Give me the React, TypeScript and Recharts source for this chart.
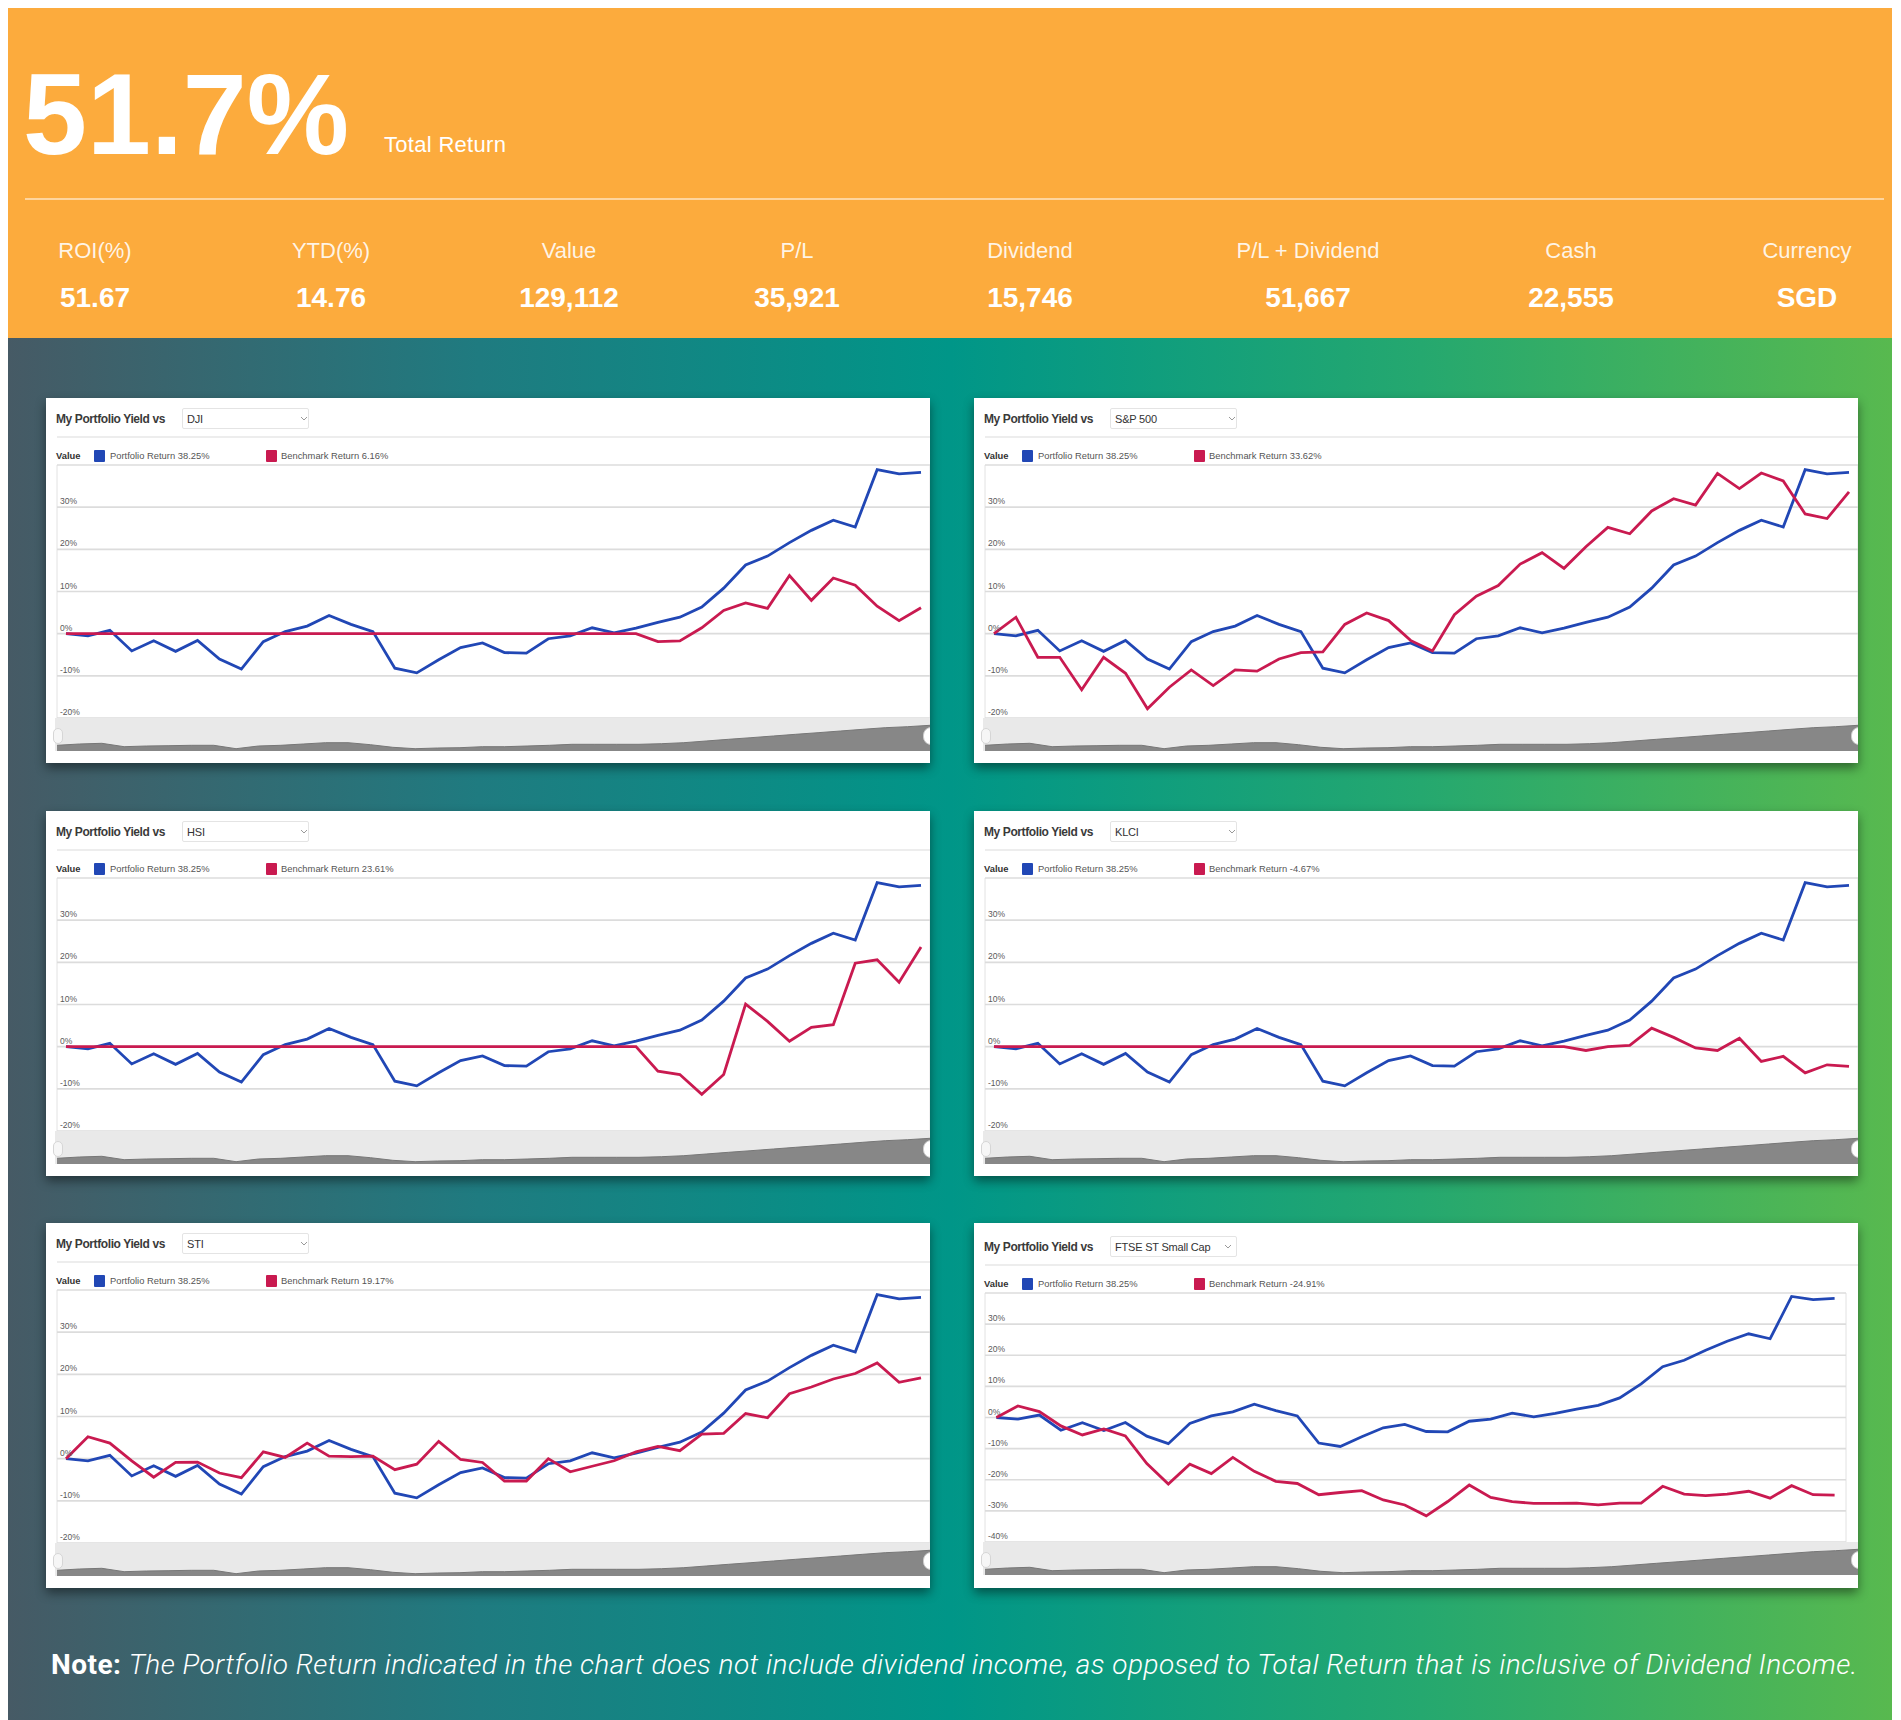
import React from "react";
import { LineChart, Line, XAxis, YAxis, CartesianGrid, AreaChart, Area } from "recharts";

// header figures
const headline = "51.7%";
const headlineCaption = "Total Return";
const statLabels = ["ROI(%)", "YTD(%)", "Value", "P/L", "Dividend", "P/L + Dividend", "Cash", "Currency"];
const statValues = ["51.67", "14.76", "129,112", "35,921", "15,746", "51,667", "22,555", "SGD"];

// chart series (40 sampled points, % return)
const portfolioReturn = [
  0, -0.5, 0.8, -4.1, -1.7, -4.2, -1.6, -6.0, -8.4, -1.9, 0.5, 1.8, 4.3, 2.2, 0.5, -8.2, -9.3, -6.2, -3.3, -2.2,
  -4.5, -4.6, -1.2, -0.5, 1.4, 0.2, 1.3, 2.7, 3.9, 6.3, 10.8, 16.3, 18.4, 21.6, 24.5, 26.9, 25.3, 38.9, 37.9, 38.25,
];
const djiReturn = [
  0, 0, 0, 0, 0, 0, 0, 0, 0, 0, 0, 0, 0, 0, 0, 0, 0, 0, 0, 0,
  0, 0, 0, 0, 0, 0, 0, -1.9, -1.7, 1.4, 5.5, 7.3, 6.0, 13.8, 7.9, 13.2, 11.5, 6.5, 3.1, 6.16,
];
const sp500Return = [
  0, 3.9, -5.6, -5.6, -13.3, -5.6, -9.4, -17.8, -12.7, -8.6, -12.3, -8.6, -8.9, -6.0, -4.5, -4.3, 2.2, 4.9, 3.1, -1.6,
  -4.1, 4.5, 8.9, 11.4, 16.5, 19.2, 15.5, 20.6, 25.2, 23.7, 29.1, 32.0, 30.5, 38.0, 34.4, 38.1, 36.2, 28.4, 27.3, 33.62,
];
const hsiReturn = [
  0, 0, 0, 0, 0, 0, 0, 0, 0, 0, 0, 0, 0, 0, 0, 0, 0, 0, 0, 0,
  0, 0, 0, 0, 0, 0, 0, -5.8, -6.6, -11.3, -6.6, 10.1, 6.0, 1.3, 4.6, 5.2, 19.8, 20.6, 15.3, 23.61,
];
const klciReturn = [
  0, 0, 0, 0, 0, 0, 0, 0, 0, 0, 0, 0, 0, 0, 0, 0, 0, 0, 0, 0,
  0, 0, 0, 0, 0, 0, 0, -0.9, 0, 0.3, 4.4, 2.2, -0.3, -0.9, 2.0, -3.5, -2.3, -6.2, -4.3, -4.67,
];
const stiReturn = [
  0, 5.2, 3.7, -0.5, -4.4, -0.9, -0.8, -3.4, -4.5, 1.6, 0.3, 3.7, 0.6, 0.5, 0.6, -2.6, -1.3, 4.1, -0.2, -0.9,
  -5.3, -5.3, 0, -3.1, -1.8, -0.5, 1.6, 2.9, 1.9, 5.8, 6.0, 10.7, 9.7, 15.4, 17.0, 18.9, 20.2, 22.7, 18.1, 19.17,
];
const ftseSmallCapReturn = [
  0, 3.7, 1.9, -2.7, -5.6, -3.7, -5.9, -14.8, -21.4, -15.0, -18.0, -12.8, -17.3, -20.5, -21.2, -24.8, -24.1, -23.5, -26.5, -28.1,
  -31.6, -27.0, -21.7, -25.7, -27.0, -27.6, -27.6, -27.5, -28.1, -27.5, -27.5, -22.1, -24.6, -25.1, -24.6, -23.7, -25.9, -21.9, -24.8, -24.91,
];

const benchmarkNames = ["DJI", "S&P 500", "HSI", "KLCI", "STI", "FTSE ST Small Cap"];
const benchmarkLegend = ["6.16%", "33.62%", "23.61%", "-4.67%", "19.17%", "-24.91%"];
const portfolioLegend = "38.25%";

// navigator strip under each chart
const navigatorSeries = [
  5.7, 7, 7.7, 4.3, 5, 5.3, 5.7, 5.7, 2.3, 5, 5.7, 7, 8.3, 8.3, 6.3, 3.7, 2.3, 3, 3.3, 4.3,
  4.3, 5, 5.7, 6.7, 6.7, 6.7, 6.7, 7.3, 8.3, 10, 11.7, 13.3, 15, 16.7, 18.3, 20, 21.7, 23.3, 24.3, 25.7,
];
const navigatorTickIndex = [1.8, 10.9, 13.8, 22.7, 25.6, 28.7, 31.8, 34.9, 37.8];
const navigatorTickLabels = ["Apr", "2023", "Apr", "2024", "Apr", "Jul", "Oct", "2025", "Apr"];

const yTicksNarrow = [-20, -10, 0, 10, 20, 30, 40];
const yTicksWide = [-40, -30, -20, -10, 0, 10, 20, 30, 40];
const xGridTicks = [1.5, 4.5, 7.5, 10.5, 13.5, 16.5, 19.5, 22.5, 25.5, 28.5, 31.5, 34.5, 37.5];

const FONT = "'Liberation Sans', Arial, Helvetica, sans-serif";
const ORANGE = "#fcab3d";
const BLUE = "#2147b5";
const RED = "#c91a50";
const CARD_W = 884;
const CARD_H = 365;
const statCenters = [87, 323, 561, 789, 1022, 1300, 1563, 1799];

type CardProps = {
  left: number;
  top: number;
  idx: number;
  bench: number[];
  wide?: boolean;
};

function YTickLabel(props: any) {
  const { y, payload, top } = props;
  if (payload.value === top) return <g />;
  return (
    <text x={14} y={y - 3} fontSize={8.5} fill="#5a5a5a" fontFamily={FONT}>
      {`${payload.value}%`}
    </text>
  );
}

function ChartCard({ left, top, idx, bench, wide }: CardProps) {
  const rows = portfolioReturn.map((p, i) => ({ i, portfolio: p, benchmark: bench[i] }));
  const navRows = navigatorSeries.map((v, i) => ({ i, v }));
  const nudge = wide ? 3 : 0;
  const plotTop = wide ? 70 : 67;
  const plotBottom = wide ? 319 : 320;
  const rightGap = wide ? 12 : 0;
  const pad = wide ? 0.53 : 0.41;
  const yTicks = wide ? yTicksWide : yTicksNarrow;
  const yMax = yTicks[yTicks.length - 1];

  return (
    <div
      style={{
        position: "absolute",
        left,
        top,
        width: CARD_W,
        height: CARD_H,
        background: "#fff",
        boxShadow: "0 5px 10px rgba(0,0,0,0.45)",
        overflow: "hidden",
      }}
    >
      <div style={{ position: "absolute", left: 10, top: 15 + nudge, fontSize: 12, lineHeight: "12px", fontWeight: 700, color: "#3a3a3a", letterSpacing: -0.4, whiteSpace: "nowrap" }}>
        My Portfolio Yield vs
      </div>
      <div style={{ position: "absolute", left: 136, top: 10 + nudge, width: 127, height: 21, border: "1px solid #e4e4e4", borderRadius: 2, boxSizing: "border-box" }} />
      <div style={{ position: "absolute", left: 141, top: 16 + nudge, fontSize: 11, lineHeight: "11px", color: "#333", whiteSpace: "nowrap", letterSpacing: -0.2 }}>
        {benchmarkNames[idx]}
      </div>
      <svg style={{ position: "absolute", left: wide ? 250 : 254, top: 18 + nudge }} width={8} height={5}>
        <polyline points="1,1 4,4 7,1" fill="none" stroke="#999" strokeWidth={1} />
      </svg>
      <div style={{ position: "absolute", left: 11, top: 38 + nudge, width: CARD_W - 11, height: 1.5, background: "#ededed" }} />

      <div style={{ position: "absolute", left: 10, top: 53 + nudge, fontSize: 9.4, lineHeight: "9.4px", fontWeight: 700, color: "#333" }}>Value</div>
      <div style={{ position: "absolute", left: 48, top: 52 + nudge, width: 11, height: 12, background: BLUE, borderRadius: 1 }} />
      <div style={{ position: "absolute", left: 64, top: 53 + nudge, fontSize: 9.4, lineHeight: "9.4px", color: "#555", whiteSpace: "nowrap" }}>
        {`Portfolio Return ${portfolioLegend}`}
      </div>
      <div style={{ position: "absolute", left: 220, top: 52 + nudge, width: 11, height: 12, background: RED, borderRadius: 1 }} />
      <div style={{ position: "absolute", left: 235, top: 53 + nudge, fontSize: 9.4, lineHeight: "9.4px", color: "#555", whiteSpace: "nowrap" }}>
        {`Benchmark Return ${benchmarkLegend[idx]}`}
      </div>

      <div style={{ position: "absolute", left: 0, top: 0 }}>
        <LineChart width={CARD_W} height={plotBottom + 2} data={rows} margin={{ top: plotTop, right: rightGap, left: 11, bottom: 2 }}>
          <CartesianGrid horizontal={false} stroke="#e2e2e2" strokeWidth={1} />
          <CartesianGrid vertical={false} stroke="#dcdcdc" strokeWidth={1.6} />
          <XAxis
            type="number"
            dataKey="i"
            domain={[-pad, 39 + pad]}
            ticks={xGridTicks}
            interval={0}
            tick={false}
            axisLine={false}
            tickLine={false}
            height={0}
          />
          <YAxis
            type="number"
            domain={[yTicks[0], yMax]}
            ticks={yTicks}
            interval={0}
            mirror
            width={30}
            axisLine={false}
            tickLine={false}
            tick={<YTickLabel top={yMax} />}
          />
          <Line type="linear" dataKey="portfolio" stroke={BLUE} strokeWidth={2.8} dot={false} isAnimationActive={false} />
          <Line type="linear" dataKey="benchmark" stroke={RED} strokeWidth={2.8} dot={false} isAnimationActive={false} />
        </LineChart>
      </div>

      <div style={{ position: "absolute", left: 9, top: plotBottom, width: CARD_W - 9, height: 33, background: "#e9e9e9" }} />
      <div style={{ position: "absolute", left: 11, top: plotBottom }}>
        <AreaChart width={CARD_W - 11} height={33} data={navRows} margin={{ top: 0, right: 0, left: 0, bottom: 0 }}>
          <XAxis
            type="number"
            dataKey="i"
            domain={[0, 39]}
            ticks={navigatorTickIndex}
            interval={0}
            axisLine={false}
            tickLine={false}
            height={0}
            tick={(p: any) => (
              <text x={p.x} y={29} fontSize={8} fill="#cfcfcf" textAnchor="middle" fontFamily={FONT}>
                {navigatorTickLabels[navigatorTickIndex.indexOf(p.payload.value)]}
              </text>
            )}
          />
          <YAxis hide domain={[0, 33]} />
          <Area type="linear" dataKey="v" fill="#878787" fillOpacity={1} stroke="#777" strokeWidth={1} isAnimationActive={false} />
        </AreaChart>
      </div>
      <div style={{ position: "absolute", left: 7, top: plotBottom + 10, width: 8, height: 14, borderRadius: 5, border: "1px solid #d6d6d6", background: "#f6f6f6" }} />
      <div style={{ position: "absolute", left: CARD_W - 7, top: plotBottom + 9, width: 14, height: 16, borderRadius: 8, background: "#fff", border: "1px solid #ccc" }} />
    </div>
  );
}

export default function App() {
  const benches = [djiReturn, sp500Return, hsiReturn, klciReturn, stiReturn, ftseSmallCapReturn];
  const colX = [38, 966];
  const rowY = [390, 803, 1215];
  return (
    <div style={{ position: "relative", width: 1884, height: 1712, fontFamily: FONT, overflow: "hidden" }}>
      <div style={{ position: "absolute", left: 0, top: 0, width: 1884, height: 330, background: ORANGE }} />
      <div style={{ position: "absolute", left: 15, top: 49, fontSize: 115, lineHeight: "115px", fontWeight: 700, color: "#fff", whiteSpace: "nowrap" }}>
        {headline}
      </div>
      <div style={{ position: "absolute", left: 376, top: 126, fontSize: 22, lineHeight: "22px", color: "#fff", whiteSpace: "nowrap", letterSpacing: 0.3 }}>
        {headlineCaption}
      </div>
      <div style={{ position: "absolute", left: 17, top: 190, width: 1859, height: 2, background: "rgba(255,255,255,0.5)" }} />
      {statLabels.map((lab, i) => (
        <React.Fragment key={lab}>
          <div style={{ position: "absolute", left: statCenters[i] - 110, top: 232, width: 220, textAlign: "center", fontSize: 22, lineHeight: "22px", color: "rgba(255,255,255,0.88)", whiteSpace: "nowrap" }}>
            {lab}
          </div>
          <div style={{ position: "absolute", left: statCenters[i] - 110, top: 276, width: 220, textAlign: "center", fontSize: 28, lineHeight: "28px", fontWeight: 700, color: "#fff", whiteSpace: "nowrap" }}>
            {statValues[i]}
          </div>
        </React.Fragment>
      ))}

      <div style={{ position: "absolute", left: 0, top: 330, width: 1884, height: 1382, background: "linear-gradient(90deg, #465a65 0%, #1f7b80 25%, #009688 50%, #25a86f 75%, #58b94f 100%)" }} />

      {benches.map((b, k) => (
        <ChartCard key={k} idx={k} bench={b} left={colX[k % 2]} top={rowY[Math.floor(k / 2)]} wide={k === 5} />
      ))}

      <div style={{ position: "absolute", left: 43, top: 1643, fontFamily: "Roboto, 'Noto Sans', sans-serif", fontSize: 28, lineHeight: "28px", color: "#fff", whiteSpace: "nowrap", letterSpacing: 0.45 }}>
        <b style={{ fontWeight: 700 }}>Note:</b> <i style={{ fontWeight: 300 }}>The Portfolio Return indicated in the chart does not include dividend income, as opposed to Total Return that is inclusive of Dividend Income.</i>
      </div>
    </div>
  );
}
